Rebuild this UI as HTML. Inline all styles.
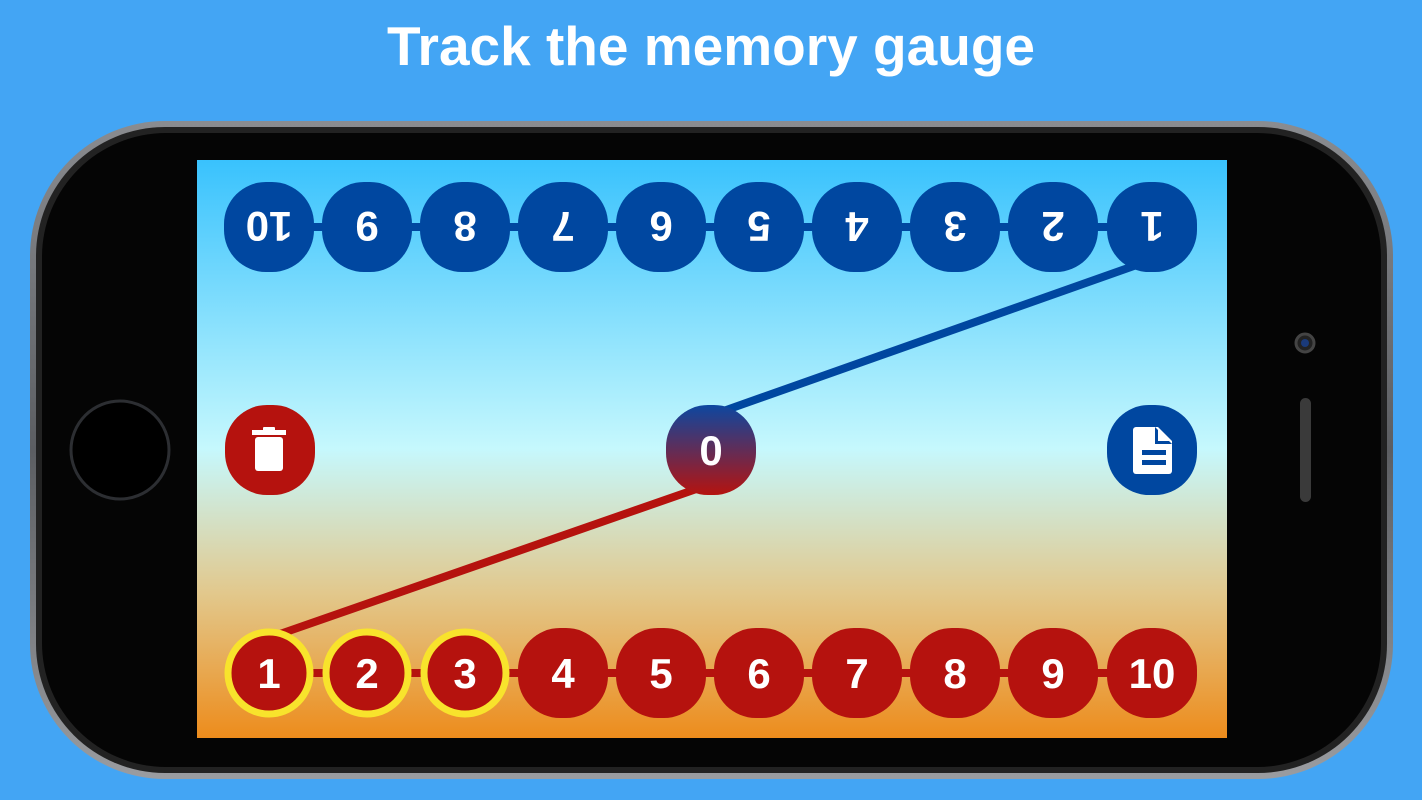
<!DOCTYPE html>
<html><head><meta charset="utf-8"><style>
html,body{margin:0;padding:0;width:1422px;height:800px;overflow:hidden;background:#43a5f4}
svg{display:block}
text{font-family:"Liberation Sans",sans-serif;}
</style></head><body>
<svg width="1422" height="800" viewBox="0 0 1422 800">
<defs>
<linearGradient id="scr" x1="0" y1="0" x2="0" y2="1">
<stop offset="0" stop-color="#39c2fd"/>
<stop offset="0.5" stop-color="#c6f8fd"/>
<stop offset="0.75" stop-color="#e2c88c"/>
<stop offset="1" stop-color="#ed8c1c"/>
</linearGradient>
<linearGradient id="zero" x1="0" y1="0" x2="0" y2="1">
<stop offset="0" stop-color="#0d47a0"/>
<stop offset="1" stop-color="#b5130f"/>
</linearGradient>
<linearGradient id="rim" x1="0" y1="0" x2="0" y2="1">
<stop offset="0" stop-color="#8a8c90"/>
<stop offset="0.5" stop-color="#5c5e62"/>
<stop offset="1" stop-color="#9a9ca0"/>
</linearGradient>
</defs>
<text x="711" y="65" text-anchor="middle" font-size="55" font-weight="bold" fill="#fff">Track the memory gauge</text>
<rect x="30" y="121" width="1363" height="658" rx="135" fill="url(#rim)"/>
<rect x="36" y="127" width="1351" height="646" rx="129" fill="#222"/>
<rect x="42" y="133" width="1339" height="634" rx="124" fill="#050505"/>
<rect x="197" y="160" width="1030" height="578" fill="url(#scr)"/>
<circle cx="120" cy="450" r="49" fill="#000" stroke="#2c2e32" stroke-width="3"/>
<circle cx="1305" cy="343" r="9" fill="#222" stroke="#444" stroke-width="3"/>
<circle cx="1305" cy="343" r="4" fill="#1a3a7a"/>
<rect x="1300" y="398" width="11" height="104" rx="5.5" fill="#3a3a3a"/>
<line x1="1152" y1="227" x2="269" y2="227" stroke="#0047a0" stroke-width="8"/>
<line x1="269" y1="673" x2="1152" y2="673" stroke="#b5120e" stroke-width="8"/>
<line x1="1145" y1="262" x2="715" y2="414" stroke="#0047a0" stroke-width="8"/>
<line x1="705" y1="486" x2="280" y2="634" stroke="#b5120e" stroke-width="8"/>
<g font-size="42" font-weight="bold" fill="#fff" text-anchor="middle">
<g fill="#0047a0">
<rect x="224" y="182" width="90" height="90" rx="42"/><rect x="322" y="182" width="90" height="90" rx="42"/><rect x="420" y="182" width="90" height="90" rx="42"/><rect x="518" y="182" width="90" height="90" rx="42"/><rect x="616" y="182" width="90" height="90" rx="42"/><rect x="714" y="182" width="90" height="90" rx="42"/><rect x="812" y="182" width="90" height="90" rx="42"/><rect x="910" y="182" width="90" height="90" rx="42"/><rect x="1008" y="182" width="90" height="90" rx="42"/><rect x="1107" y="182" width="90" height="90" rx="42"/>
</g>
<text transform="rotate(180 269 227)" x="269" y="242">10</text>
<text transform="rotate(180 367 227)" x="367" y="242">9</text>
<text transform="rotate(180 465 227)" x="465" y="242">8</text>
<text transform="rotate(180 563 227)" x="563" y="242">7</text>
<text transform="rotate(180 661 227)" x="661" y="242">6</text>
<text transform="rotate(180 759 227)" x="759" y="242">5</text>
<text transform="rotate(180 857 227)" x="857" y="242">4</text>
<text transform="rotate(180 955 227)" x="955" y="242">3</text>
<text transform="rotate(180 1053 227)" x="1053" y="242">2</text>
<text transform="rotate(180 1152 227)" x="1152" y="242">1</text>
<g fill="#b5120e">
<circle cx="269" cy="673" r="41" stroke="#f8e32c" stroke-width="7"/>
<circle cx="367" cy="673" r="41" stroke="#f8e32c" stroke-width="7"/>
<circle cx="465" cy="673" r="41" stroke="#f8e32c" stroke-width="7"/>
<rect x="518" y="628" width="90" height="90" rx="42"/><rect x="616" y="628" width="90" height="90" rx="42"/><rect x="714" y="628" width="90" height="90" rx="42"/><rect x="812" y="628" width="90" height="90" rx="42"/><rect x="910" y="628" width="90" height="90" rx="42"/><rect x="1008" y="628" width="90" height="90" rx="42"/><rect x="1107" y="628" width="90" height="90" rx="42"/>
</g>
<text x="269" y="688">1</text><text x="367" y="688">2</text><text x="465" y="688">3</text><text x="563" y="688">4</text><text x="661" y="688">5</text><text x="759" y="688">6</text><text x="857" y="688">7</text><text x="955" y="688">8</text><text x="1053" y="688">9</text><text x="1152" y="688">10</text>
<rect x="225" y="405" width="90" height="90" rx="42" fill="#b5120e"/>
<rect x="666" y="405" width="90" height="90" rx="42" fill="url(#zero)"/>
<text x="711" y="465">0</text>
<rect x="1107" y="405" width="90" height="90" rx="42" fill="#0047a0"/>
</g>
<rect x="252" y="430" width="34" height="5" fill="#fff"/>
<rect x="263" y="427" width="12" height="4" rx="1" fill="#fff"/>
<rect x="255" y="437" width="28" height="34" rx="3" fill="#fff"/>
<path d="M1136 427 h22 l14 14 v30 a3 3 0 0 1 -3 3 h-33 a3 3 0 0 1 -3 -3 v-41 a3 3 0 0 1 3 -3z" fill="#fff"/>
<path d="M1155 427 v17 h17" fill="#0047a0"/>
<path d="M1158 429 l12 12 h-12z" fill="#fff"/>
<rect x="1142" y="450" width="24" height="5" fill="#0047a0"/>
<rect x="1142" y="460" width="24" height="5" fill="#0047a0"/>
</svg>
</body></html>
